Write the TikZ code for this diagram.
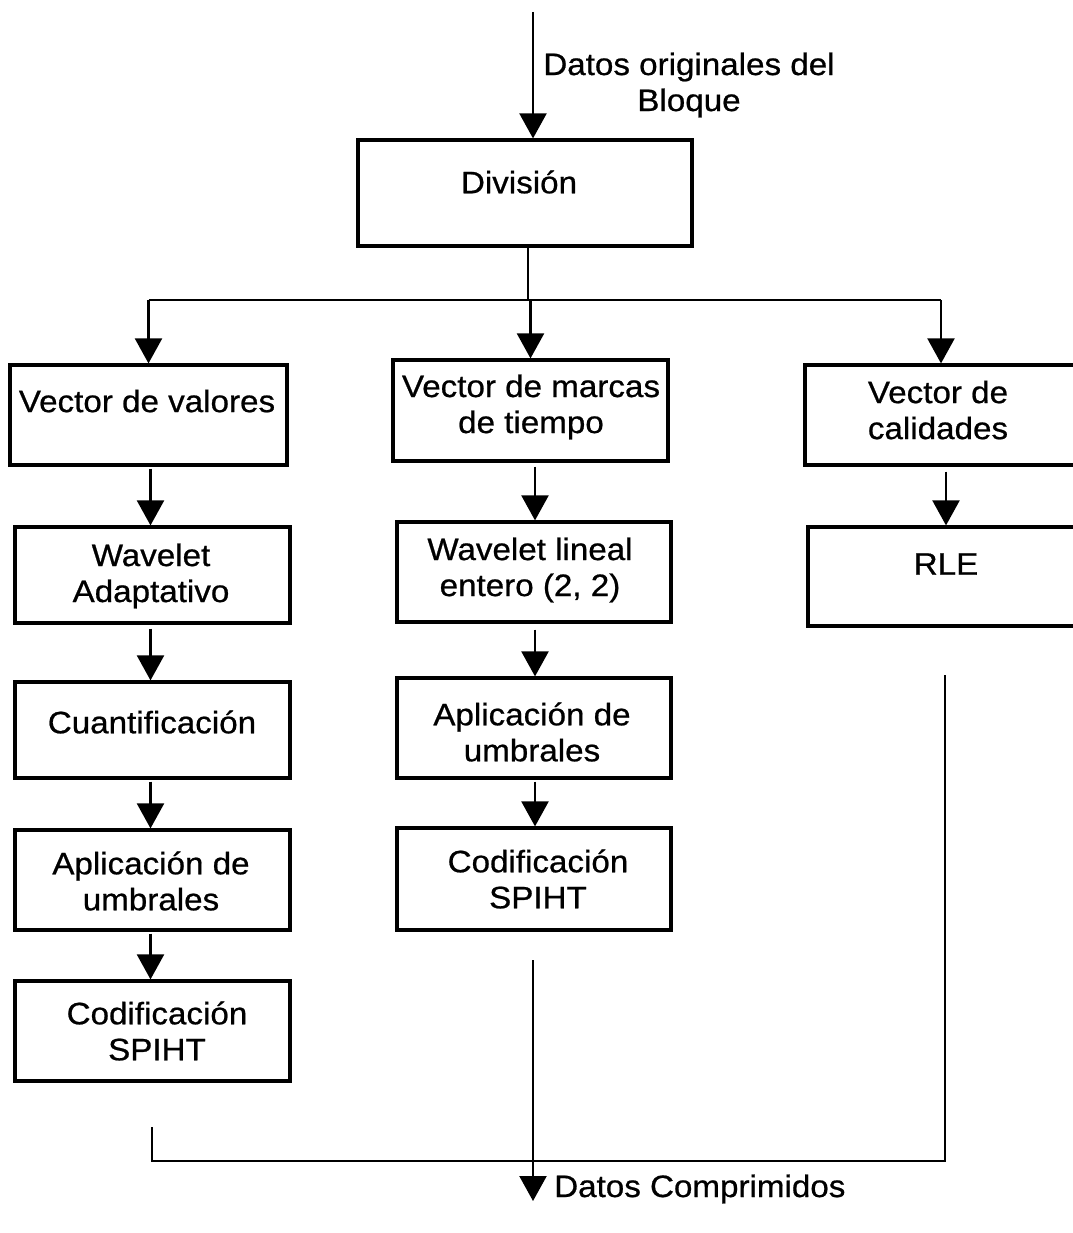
\documentclass[tikz,border=0pt]{standalone}
\usepackage{fontspec}
\setmainfont[FakeStretch=1.07,FakeBold=0.7]{Liberation Sans}
\usetikzlibrary{arrows.meta,calc}
\tikzset{
  box/.style={draw, line width=3.2pt, rectangle, inner sep=0pt},
  lbl/.style={align=center, inner sep=0pt, font=\fontsize{31}{36}\selectfont},
  conn/.style={line width=2.2pt},
  arr/.style={conn, -{Triangle[width=27pt,length=25pt]}}
}
\newcommand{\mkbox}[5]{% name, x1, y1, x2, y2
  \node[box, minimum width=#4pt-#2pt, minimum height=#5pt-#3pt] (#1) at ({(#2+#4)/2},{(#3+#5)/2}) {};}
\begin{document}
\begin{tikzpicture}[x=1pt,y=-1pt]
\useasboundingbox[fill=white] (0,0) rectangle (1072,1233);
% boxes
\mkbox{div}{358}{140}{692}{246}
\mkbox{vv}{10}{365}{287}{465}
\mkbox{vm}{393}{360}{668}{461}
\mkbox{vc}{805}{365}{1077}{465}
\mkbox{wa}{15}{527}{290}{623}
\mkbox{wl}{397}{522}{671}{622}
\mkbox{rle}{808}{527}{1084}{626}
\mkbox{cu}{15}{682}{290}{778}
\mkbox{am}{397}{678}{671}{778}
\mkbox{al}{15}{830}{290}{930}
\mkbox{cm}{397}{828}{671}{930}
\mkbox{cl}{15}{981}{290}{1081}
% texts
\node[lbl] (tin) at (689,85) {Datos originales del\\Bloque};
\node[lbl] (tdiv) at (519,182) {División};
\node[lbl] (tvv) at (147,401) {Vector de valores};
\node[lbl] (tvm) at (531,407) {Vector de marcas\\de tiempo};
\node[lbl] (tvc) at (938,410) {Vector de\\calidades};
\node[lbl] (twa) at (151,576) {Wavelet\\Adaptativo};
\node[lbl] (twl) at (530,570) {Wavelet lineal\\entero (2, 2)};
\node[lbl] (trle) at (946,564) {RLE};
\node[lbl] (tcu) at (152,722) {Cuantificación};
\node[lbl] (tam) at (532,732) {Aplicación de\\umbrales};
\node[lbl] (tal) at (151,881) {Aplicación de\\umbrales};
\node[lbl] (tcm) at (538,879) {Codificación\\SPIHT};
\node[lbl] (tcl) at (157,1031) {Codificación\\SPIHT};
\node[lbl, anchor=west] (tout) at (554,1189) {Datos Comprimidos};
% connectors
\coordinate (in) at (533,12);
\draw[arr] (in) -- (in |- div.north);
\coordinate (split) at (528,300);
\draw[conn] (split |- div.south) -- (split);
\draw[conn] (vv.north |- split) -- (vc.north |- split);
\draw[arr] (vv.north |- split) -- (vv.north);
\draw[arr] (vm.north |- split) -- (vm.north);
\draw[arr] (vc.north |- split) -- (vc.north);
% left column
\draw[arr] ($(wa.north |- vv.south)+(-2,2)$) -- ($(wa.north)+(-2,0)$);
\draw[arr] ($(cu.north |- wa.south)+(-2,4)$) -- ($(cu.north)+(-2,0)$);
\draw[arr] ($(al.north |- cu.south)+(-2,2)$) -- ($(al.north)+(-2,0)$);
\draw[arr] ($(cl.north |- al.south)+(-2,2)$) -- ($(cl.north)+(-2,0)$);
% middle column
\draw[arr] ($(wl.north |- vm.south)+(1,4)$) -- ($(wl.north)+(1,0)$);
\draw[arr] ($(am.north |- wl.south)+(1,6)$) -- ($(am.north)+(1,0)$);
\draw[arr] ($(cm.north |- am.south)+(1,2)$) -- ($(cm.north)+(1,0)$);
% right column
\draw[arr] ($(rle.north |- vc.south)+(0,5)$) -- (rle.north);
% outputs
\coordinate (endL) at (152,1127);
\coordinate (endR) at (945,675);
\coordinate (join) at (945,1161);
\draw[conn, line join=miter] (endL) -- (endL |- join) -- (join) -- (endR);
\coordinate (mtop) at (533,960);
\coordinate (out) at (533,1201);
\draw[arr] (mtop) -- (out);
\end{tikzpicture}
\end{document}
